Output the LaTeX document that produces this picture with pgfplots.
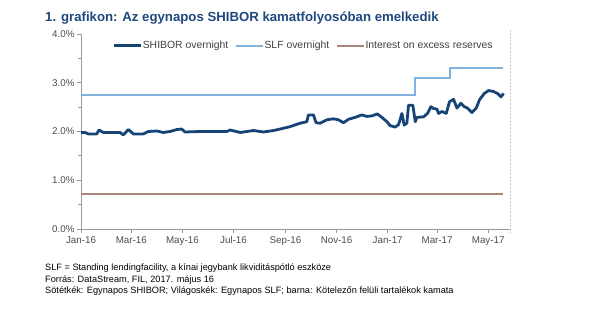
\documentclass[border=0pt]{standalone}
\usepackage{pgfplots}
\pgfplotsset{compat=1.18}
\usepackage{fontspec}
\setmainfont{Liberation Sans}
\definecolor{titleblue}{RGB}{31,73,125}
\definecolor{shibor}{RGB}{22,68,118}
\definecolor{slf}{RGB}{130,178,222}
\definecolor{ioer}{RGB}{168,135,118}
\begin{document}
\begin{tikzpicture}[x=1pt,y=1pt]
\path[use as bounding box] (0,0) rectangle (600,323);
\node[anchor=base west,inner sep=0,text=titleblue,font=\fontsize{13.2}{15}\selectfont\bfseries] at (45,301) {1. grafikon: Az egynapos SHIBOR kamatfolyosóban emelkedik};
\draw[black!20,densely dotted] (510,91) -- (510,293);
\begin{axis}[
  at={(81pt,94pt)}, anchor=south west,
  scale only axis, width=429pt, height=195pt,
  xmin=0, xmax=512, ymin=0, ymax=4,
  axis x line*=bottom, axis y line*=left,
  axis line style={black!40, line width=0.8pt},
  tick align=outside,
  major tick length=4pt, minor tick length=3pt,
  tick style={black!40, line width=0.8pt},
  xtick={0,60,121,182,244,305,366,425,486},
  xticklabels={Jan-16,Mar-16,May-16,Jul-16,Sep-16,Nov-16,Jan-17,Mar-17,May-17},
  ytick={0,1,2,3,4},
  yticklabels={0.0\%,1.0\%,2.0\%,3.0\%,4.0\%},
  minor ytick={0.5,1.5,2.5,3.5},
  ticklabel style={font=\fontsize{9.8}{11}\selectfont, text=black!70},
  yticklabel style={xshift=1pt},
  legend columns=3,
  legend style={at={(0.066,0.94)}, anchor=west, draw=none, fill=none,
    font=\fontsize{10.4}{12}\selectfont, text=black!75,
    nodes={inner sep=0.5pt},
    /tikz/every even column/.append style={column sep=6pt}},
  legend image code/.code={\draw[#1] (0pt,0pt) -- (27pt,0pt);},
  clip=false,
]
\addplot[ioer, line width=2.2pt, forget plot] coordinates {(0,0.72) (504,0.72)};
\addplot[slf, line width=2.2pt, const plot, forget plot] coordinates {(0,2.75) (399,3.10) (440,3.30) (504,3.30)};
\addplot[shibor, line width=2.8pt, line join=round] coordinates {
(0,1.98) (4.8,1.98) (8.8,1.95) (18.7,1.95) (21.5,2.03) (26.7,1.98) (46.6,1.98) (50.5,1.93) (56.5,2.04) (62.5,1.95) (74.4,1.95) (80.4,2.00) (90.4,2.01) (98.3,1.98) (106.3,2.00) (114.3,2.04) (120.2,2.05) (124.2,1.99) (142,2.00) (174,2.00) (178,2.03) (190,1.98) (205.8,2.02) (217.7,1.99) (229.7,2.02) (237.6,2.05) (249.6,2.10) (261.5,2.17) (269.5,2.20) (271.4,2.34) (277.4,2.34) (280.6,2.18) (285.4,2.17) (293.4,2.24) (301.3,2.26) (307.3,2.24) (313.2,2.18) (319.2,2.25) (327.2,2.29) (335.2,2.34) (341.2,2.31) (347.1,2.32) (353.8,2.36) (359.1,2.29) (365.1,2.20) (369,2.12) (375,2.09) (378.9,2.14) (380.1,2.20) (383,2.37) (385.7,2.13) (388.9,2.17) (390.9,2.54) (396.1,2.54) (398.9,2.20) (400.9,2.29) (408.8,2.30) (413.5,2.37) (417.6,2.51) (420.7,2.47) (424.8,2.46) (426.7,2.37) (430.7,2.41) (435.9,2.37) (439.8,2.61) (444.6,2.66) (448.7,2.48) (453.4,2.58) (457.4,2.51) (461.3,2.48) (466.6,2.39) (471.7,2.48) (475.6,2.65) (481.3,2.78) (486.4,2.84) (492.4,2.82) (497.1,2.78) (501.2,2.71) (504.3,2.78)};
\addlegendentry{SHIBOR overnight}
\addlegendimage{slf, line width=2.2pt}
\addlegendentry{SLF overnight}
\addlegendimage{ioer, line width=2.2pt}
\addlegendentry{Interest on excess reserves}
\end{axis}
\node[anchor=base west,inner sep=0,font=\fontsize{9.2}{10}\selectfont] at (45,52) {SLF = Standing lendingfacility, a kínai jegybank likviditáspótló eszköze};
\node[anchor=base west,inner sep=0,font=\fontsize{9.2}{10}\selectfont] at (45,40.5) {Forrás: DataStream, FIL, 2017. május 16};
\node[anchor=base west,inner sep=0,font=\fontsize{9.2}{10}\selectfont] at (45,29) {Sötétkék: Egynapos SHIBOR; Világoskék: Egynapos SLF; barna: Kötelezőn felüli tartalékok kamata};
\end{tikzpicture}
\end{document}
